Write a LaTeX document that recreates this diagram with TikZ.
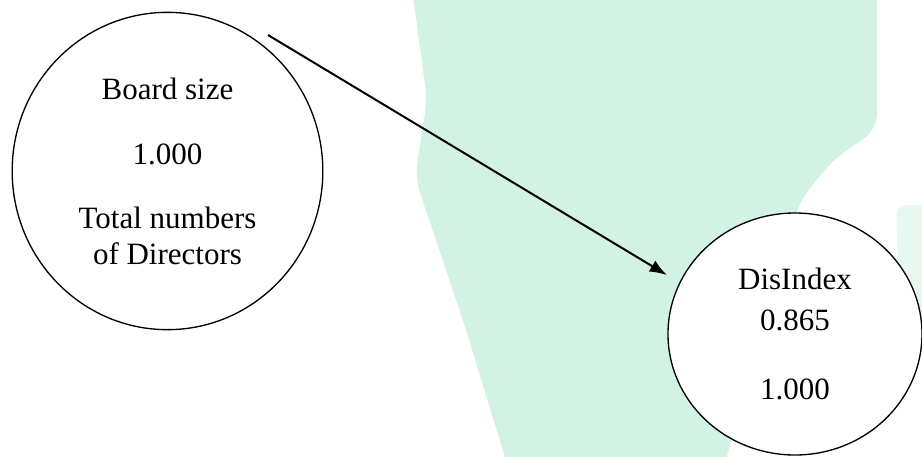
\documentclass[tikz,border=0pt]{standalone}
\usepackage{fontspec}
\setmainfont{Liberation Serif}
\usetikzlibrary{arrows.meta,shapes.geometric}
\definecolor{mint}{HTML}{D2F3E3}

\begin{document}
\begin{tikzpicture}[x=0.75pt,y=-0.75pt,font=\fontsize{23.25}{27}\selectfont]
  \useasboundingbox (0,0) rectangle (922,457);
  % pale background patch
  \begin{scope}
    \clip (0,0) rectangle (922,457);
    \fill[mint,rounded corners=12pt] (411,-20) -- (877,-20) -- (877,130) -- (835,158) -- (800,200) -- (720,480) -- (512,480) -- (463,320) -- (415,178) -- (427,100) -- cycle;
    \fill[mint!55,rounded corners=8pt] (896,205) -- (940,205) -- (940,330) -- (900,330) -- cycle;
  \end{scope}
  \node[draw,ellipse,fill=white,line width=1pt,inner sep=0pt,minimum width=233pt,minimum height=238pt,align=center] (board) at (167.5,171) {Board size\\[21.75pt]1.000\\[21pt]Total numbers\\of Directors};
  \node[draw,ellipse,fill=white,line width=1pt,inner sep=0pt,minimum width=190.5pt,minimum height=181.5pt,align=center] (dis) at (795,334) {DisIndex\\[3.75pt]0.865\\[24.75pt]1.000};
  \coordinate (src) at (268,35);
  \draw[-{Latex[length=13pt,width=9.5pt]},line width=1.5pt,shorten >=10.8pt] (src) -- (dis.156);
\end{tikzpicture}
\end{document}
